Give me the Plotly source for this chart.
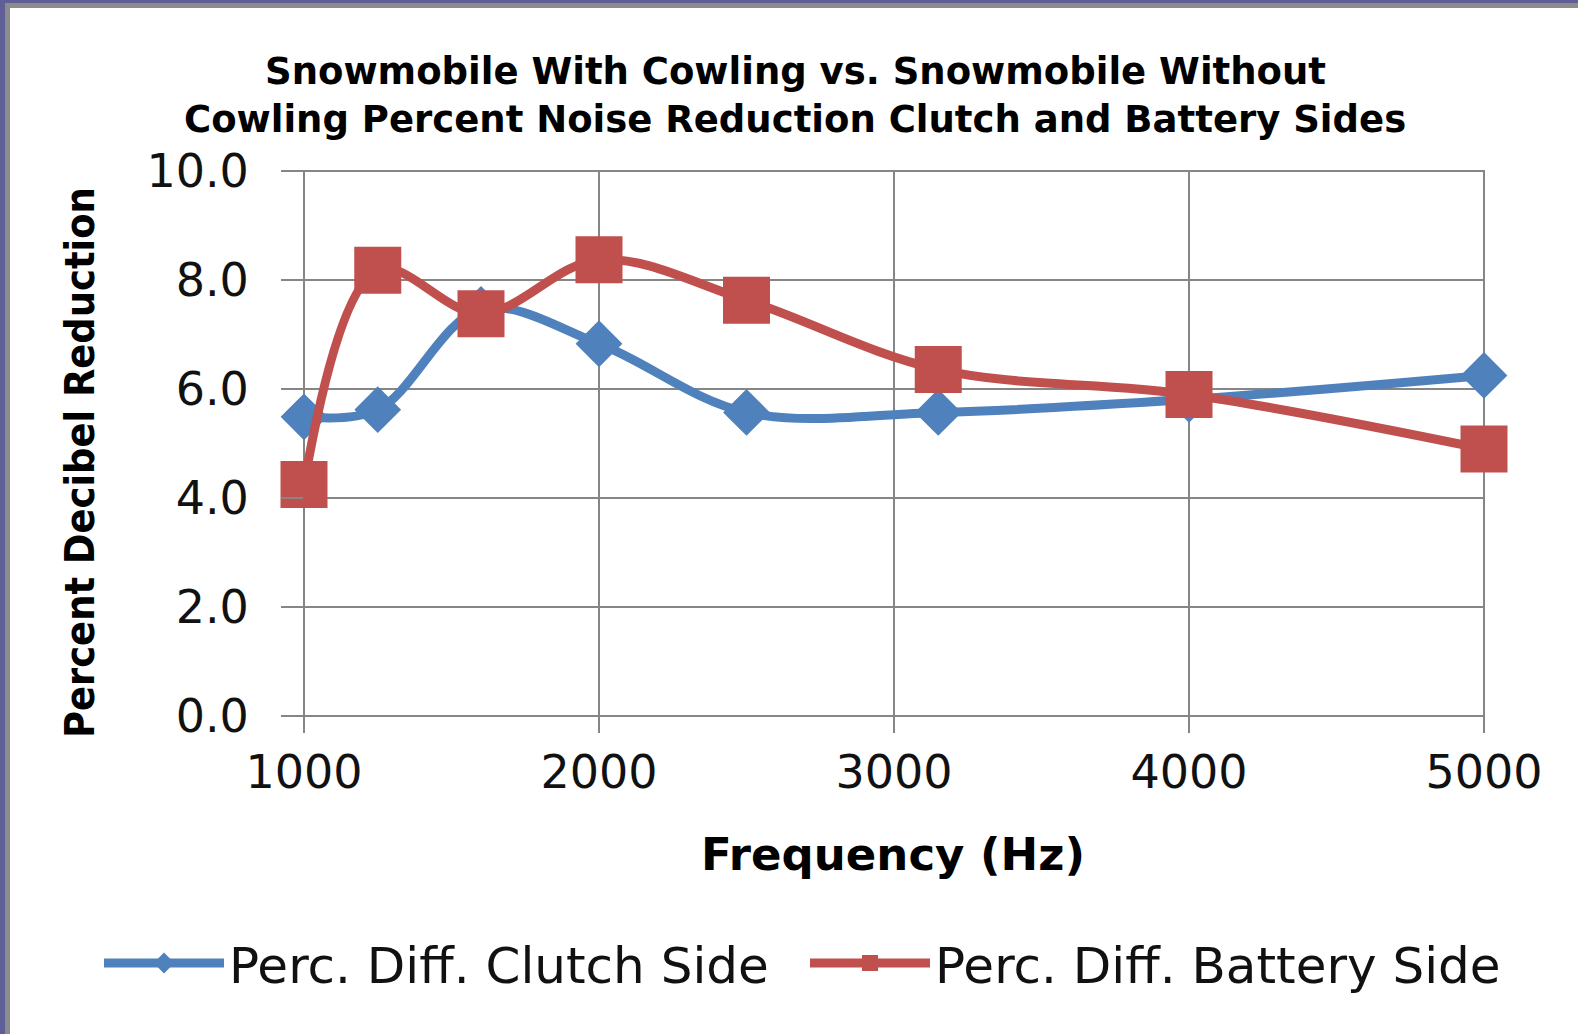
import plotly.graph_objects as go

# ---- data ----
frequency_hz = [1000, 1250, 1600, 2000, 2500, 3150, 4000, 5000]
clutch_side = [5.49, 5.62, 7.46, 6.83, 5.57, 5.57, 5.81, 6.25]
battery_side = [4.25, 8.18, 7.38, 8.37, 7.63, 6.36, 5.90, 4.90]
x_ticks = [1000, 2000, 3000, 4000, 5000]
y_ticks = [0, 2, 4, 6, 8, 10]
series_names = ["Perc. Diff. Clutch Side", "Perc. Diff. Battery Side"]

W, H = 1578, 1034
L, R, T, B = 304, 94, 171, 318
PW, PH = W - L - R, H - T - B

BLUE = "#4F81BD"
RED = "#C0504D"
GRID = "#868686"
FONT = "DejaVu Sans"

fig = go.Figure()
fig.add_trace(go.Scatter(
    x=frequency_hz, y=clutch_side, name=series_names[0], legend="legend",
    mode="lines+markers", line=dict(color=BLUE, width=9, shape="spline", smoothing=1.0),
    marker=dict(symbol="diamond", size=36, color=BLUE), cliponaxis=False))
fig.add_trace(go.Scatter(
    x=frequency_hz, y=battery_side, name=series_names[1], legend="legend2",
    mode="lines+markers", line=dict(color=RED, width=9, shape="spline", smoothing=1.0),
    marker=dict(symbol="square", size=47, color=RED), cliponaxis=False))

def px_x(p):
    return (p - L) / PW

def px_y(p):
    return (H - B - p) / PH

shapes = [
    # plot-area frame (edge gridlines)
    dict(type="rect", xref="paper", yref="paper", x0=0, x1=1, y0=0, y1=1,
         line=dict(color=GRID, width=2), layer="below"),
    # outer frame (purple + grey bands on top and left)
    dict(type="rect", xref="paper", yref="paper", x0=px_x(0), x1=px_x(W), y0=px_y(0), y1=px_y(3),
         fillcolor="#5F5E96", line=dict(width=0), layer="above"),
    dict(type="rect", xref="paper", yref="paper", x0=px_x(5), x1=px_x(W), y0=px_y(3), y1=px_y(8),
         fillcolor="#8C8C8C", line=dict(width=0), layer="above"),
    dict(type="rect", xref="paper", yref="paper", x0=px_x(0), x1=px_x(5), y0=px_y(H), y1=px_y(0),
         fillcolor="#5F5E96", line=dict(width=0), layer="above"),
    dict(type="rect", xref="paper", yref="paper", x0=px_x(5), x1=px_x(10), y0=px_y(H), y1=px_y(3),
         fillcolor="#8C8C8C", line=dict(width=0), layer="above"),
]

annotations = [
    dict(text="Snowmobile With Cowling vs. Snowmobile Without", xref="paper", yref="paper",
         x=px_x(795), y=px_y(71), showarrow=False, xanchor="center", yanchor="middle",
         font=dict(family=FONT, size=37, color="#000000", weight="bold")),
    dict(text="Cowling Percent Noise Reduction Clutch and Battery Sides", xref="paper", yref="paper",
         x=px_x(795), y=px_y(119), showarrow=False, xanchor="center", yanchor="middle",
         font=dict(family=FONT, size=37, color="#000000", weight="bold")),
    dict(text="Frequency (Hz)", xref="paper", yref="paper",
         x=px_x(893), y=px_y(854), showarrow=False, xanchor="center", yanchor="middle",
         font=dict(family=FONT, size=45, color="#000000", weight="bold")),
    dict(text="Percent Decibel Reduction", xref="paper", yref="paper", textangle=-90,
         x=px_x(80), y=px_y(463), showarrow=False, xanchor="center", yanchor="middle",
         font=dict(family="DejaVu Sans Condensed", size=41, color="#000000", weight="bold")),
]

legend_common = dict(orientation="h", xref="container", yref="container",
                     xanchor="left", yanchor="middle",
                     font=dict(family=FONT, size=50, color="#111111"),
                     itemwidth=120, bgcolor="rgba(0,0,0,0)")

fig.update_layout(
    width=W, height=H,
    margin=dict(l=L, r=R, t=T, b=B, pad=0, autoexpand=False),
    paper_bgcolor="white", plot_bgcolor="white",
    showlegend=True,
    legend=dict(x=99 / W, y=1 - 963 / H, **legend_common),
    legend2=dict(x=805 / W, y=1 - 963 / H, **legend_common),
    shapes=shapes, annotations=annotations,
    xaxis=dict(range=[1000, 5000], tickvals=x_ticks, ticktext=[str(v) for v in x_ticks],
               showgrid=True, gridcolor=GRID, gridwidth=2, zeroline=False, showline=False,
               ticks="outside", ticklen=16, tickwidth=2, tickcolor=GRID,
               tickfont=dict(family=FONT, size=46, color="#111111")),
    yaxis=dict(range=[0, 10], tickvals=y_ticks, ticktext=[f"{v:.1f}" for v in y_ticks],
               showgrid=True, gridcolor=GRID, gridwidth=2, zeroline=False, showline=False,
               ticks="outside", ticklen=22, tickwidth=2, tickcolor=GRID,
               tickfont=dict(family=FONT, size=46, color="#111111"), ticklabelstandoff=23),
)

fig.write_html("out.html", config={"displayModeBar": False},
               post_script="document.body.style.margin='0px';")
